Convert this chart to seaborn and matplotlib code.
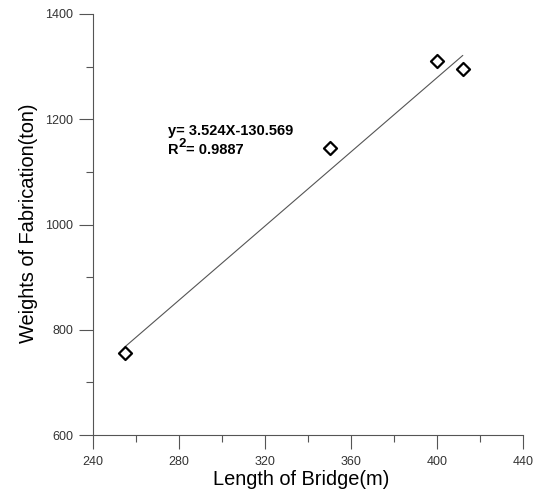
import matplotlib
matplotlib.use("Agg")
import matplotlib.pyplot as plt
from matplotlib.ticker import MultipleLocator
import numpy as np
import pandas as pd
import seaborn as sns

# Bridge length vs. fabricated steel weight
length_m = [255, 350, 400, 412]
weight_ton = [756, 1145, 1311, 1295]

# Linear fit reported on the chart
slope = 3.524
intercept = -130.569
r_squared = 0.9887

x_ticks = [240, 280, 320, 360, 400, 440]
y_ticks = [600, 800, 1000, 1200, 1400]

sns.set_style("ticks")
plt.rcParams["font.family"] = ["Liberation Sans", "DejaVu Sans"]

fig = plt.figure(figsize=(5.42, 4.91), dpi=100)
ax = fig.add_axes([93 / 542, 56 / 491, 430 / 542, 421 / 491])

df = pd.DataFrame({"length": length_m, "weight": weight_ton})

# regression line across the range of the data
fit_x = np.array([min(length_m), max(length_m)], dtype=float)
ax.plot(fit_x, slope * fit_x + intercept, color="#555555", lw=0.8, zorder=1)

sns.scatterplot(data=df, x="length", y="weight", marker="D", s=44,
                color="white", edgecolor="black", linewidth=1.6,
                ax=ax, zorder=3)

ax.set_xlim(240, 440)
ax.set_ylim(600, 1400)
ax.set_xticks(x_ticks)
ax.set_yticks(y_ticks)
ax.xaxis.set_minor_locator(MultipleLocator(20))
ax.yaxis.set_minor_locator(MultipleLocator(100))

axis_grey = "#555555"
for side in ("top", "right"):
    ax.spines[side].set_visible(False)
for side in ("left", "bottom"):
    ax.spines[side].set_color(axis_grey)
    ax.spines[side].set_linewidth(0.8)

ax.tick_params(which="major", length=10, width=0.8, color=axis_grey,
               labelsize=9, labelcolor="#333333", direction="out")
ax.tick_params(which="minor", length=5, width=0.8, color=axis_grey,
               direction="out")
ax.tick_params(axis="x", which="major", pad=5)
ax.tick_params(axis="y", which="major", pad=4.3)

ax.set_xlabel("Length of Bridge(m)", fontsize=14.4, color="black")
ax.set_ylabel("Weights of Fabrication(ton)", fontsize=14.4, color="black")
ax.xaxis.set_label_coords(0.484, -0.082)
ax.yaxis.set_label_coords(-0.128, 0.504)

# fit equation and coefficient of determination
eq_kw = dict(fontweight="bold", color="black")
ax.text(275, 1171, f"y= {slope:.3f}X{intercept:.3f}", va="baseline",
        fontsize=10.5, **eq_kw)
r_txt = ax.text(275, 1134, "R", va="baseline", fontsize=10.5, **eq_kw)
sup = ax.annotate("2", xy=(1, 0), xycoords=r_txt, xytext=(-0.1, 5),
                  textcoords="offset points", va="bottom", ha="left",
                  fontsize=9.5, **eq_kw)
ax.annotate(f"= {r_squared:.4f}", xy=(1, 0), xycoords=sup,
            xytext=(-0.3, -5), textcoords="offset points",
            va="bottom", ha="left", fontsize=10.5, **eq_kw)

fig.savefig("out.png", dpi=100)
